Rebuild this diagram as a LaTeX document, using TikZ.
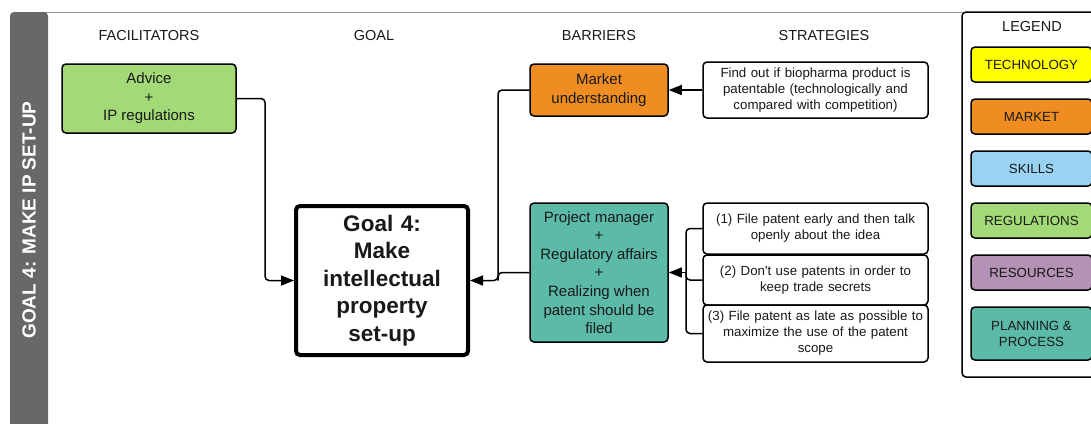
\documentclass[tikz,border=0pt]{standalone}
\usepackage{fontspec}
\setmainfont{Liberation Sans}
\usetikzlibrary{arrows.meta}
\definecolor{cgreen}{HTML}{A3D977}
\definecolor{corange}{HTML}{EF8D22}
\definecolor{cteal}{HTML}{5CBAA8}
\definecolor{cyellow}{HTML}{FFFF00}
\definecolor{cblue}{HTML}{9AD2F2}
\definecolor{cpurple}{HTML}{B392B5}
\definecolor{cgray}{HTML}{686868}
\tikzset{
  box/.style={draw=black, line width=1.5pt, rounded corners=4pt, inner sep=2pt, align=center, text=black!90},
  colbox/.style={box, font=\fontsize{15}{18.6}\selectfont},
  stratbox/.style={box, fill=white, minimum width=225pt, text width=219pt, font=\fontsize{13.3}{16}\selectfont},
  legbox/.style={box, minimum width=121pt, font=\fontsize{13.3}{16}\selectfont},
  header/.style={font=\fontsize{14.5}{17}\selectfont, text=black!90},
  conn/.style={line width=1.5pt, rounded corners=4pt},
  arr/.style={conn, -{Triangle[length=13pt,width=10pt]}}
}
\begin{document}
\begin{tikzpicture}[x=1pt, y=-1pt]
\useasboundingbox (0,0) rectangle (1091,423);
% frame
\draw[cgray!70, line width=1pt] (14,12) -- (962,12);
\fill[cgray, rounded corners=4pt] (10,430) -- (10,12) -- (48,12) -- (48,430) -- cycle;
\node[rotate=90, text=white, font=\bfseries\fontsize{19}{22}\selectfont] (title) at (29,220) {GOAL 4: MAKE IP SET-UP};
% headers
\node[header] (h1) at (149,36) {FACILITATORS};
\node[header] (h2) at (374,36) {GOAL};
\node[header] (h3) at (599,36) {BARRIERS};
\node[header] (h4) at (824,36) {STRATEGIES};
% nodes
\node[colbox, fill=cgreen, minimum width=174pt, minimum height=69pt] (adv) at (149,98.5) {Advice\\+\\IP regulations};
\node[box, line width=4pt, fill=white, minimum width=172pt, minimum height=149pt, text width=160pt, font=\bfseries\fontsize{22.5}{27.5}\selectfont] (goal) at (382,280.5) {Goal 4:\\Make\\intellectual\\property\\set-up};
\node[colbox, fill=corange, minimum width=138pt, minimum height=52pt] (mkt) at (599,90) {Market\\understanding};
\node[colbox, fill=cteal, minimum width=138pt, minimum height=139pt] (pm) at (599,272.5) {Project manager\\+\\Regulatory affairs\\+\\Realizing when\\patent should be\\filed};
\node[stratbox, minimum height=56pt] (s0) at (815.5,90) {Find out if biopharma product is\\patentable (technologically and\\compared with competition)};
\node[stratbox, minimum height=51pt] (s1) at (815.5,228.5) {(1) File patent early and then talk\\openly about the idea};
\node[stratbox, minimum height=50pt] (s2) at (815.5,280) {(2) Don\textquotesingle t use patents in order to\\keep trade secrets};
\node[stratbox, minimum height=57pt] (s3) at (815.5,333.5) {(3) File patent as late as possible to\\maximize the use of the patent\\scope};
% legend
\draw[line width=1.5pt, rounded corners=4pt, fill=white] (1100,12) -- (962,12) -- (962,377) -- (1100,377);
\node[header] (leg) at (1032,27) {LEGEND};
\node[legbox, fill=cyellow, minimum height=35pt] (l1) at (1031.5,64.5) {TECHNOLOGY};
\node[legbox, fill=corange, minimum height=35pt] (l2) at (1031.5,116.5) {MARKET};
\node[legbox, fill=cblue, minimum height=35pt] (l3) at (1031.5,168.5) {SKILLS};
\node[legbox, fill=cgreen, minimum height=35pt] (l4) at (1031.5,220.5) {REGULATIONS};
\node[legbox, fill=cpurple, minimum height=35pt] (l5) at (1031.5,272.5) {RESOURCES};
\node[legbox, fill=cteal, minimum height=53pt] (l6) at (1031.5,333.5) {PLANNING \&\\PROCESS};
% connectors
\coordinate (j0) at (265,98.5);
\coordinate (j1) at (498,280.5);
\coordinate (j2) at (686,272.5);
\draw[arr] (adv.east) -- (j0) |- (goal.west);
\draw[arr] (mkt.west) -| (j1) -- (goal.east);
\draw[conn] (pm.west) -| (j1);
\draw[arr] (s0.west) -- (mkt.east);
\draw[conn] (s1.west) -| (j2);
\draw[conn] (s3.west) -| (j2);
\draw[conn] (s2.west) -| (j2);
\draw[arr] (j2) -- (pm.east);
\end{tikzpicture}
\end{document}
